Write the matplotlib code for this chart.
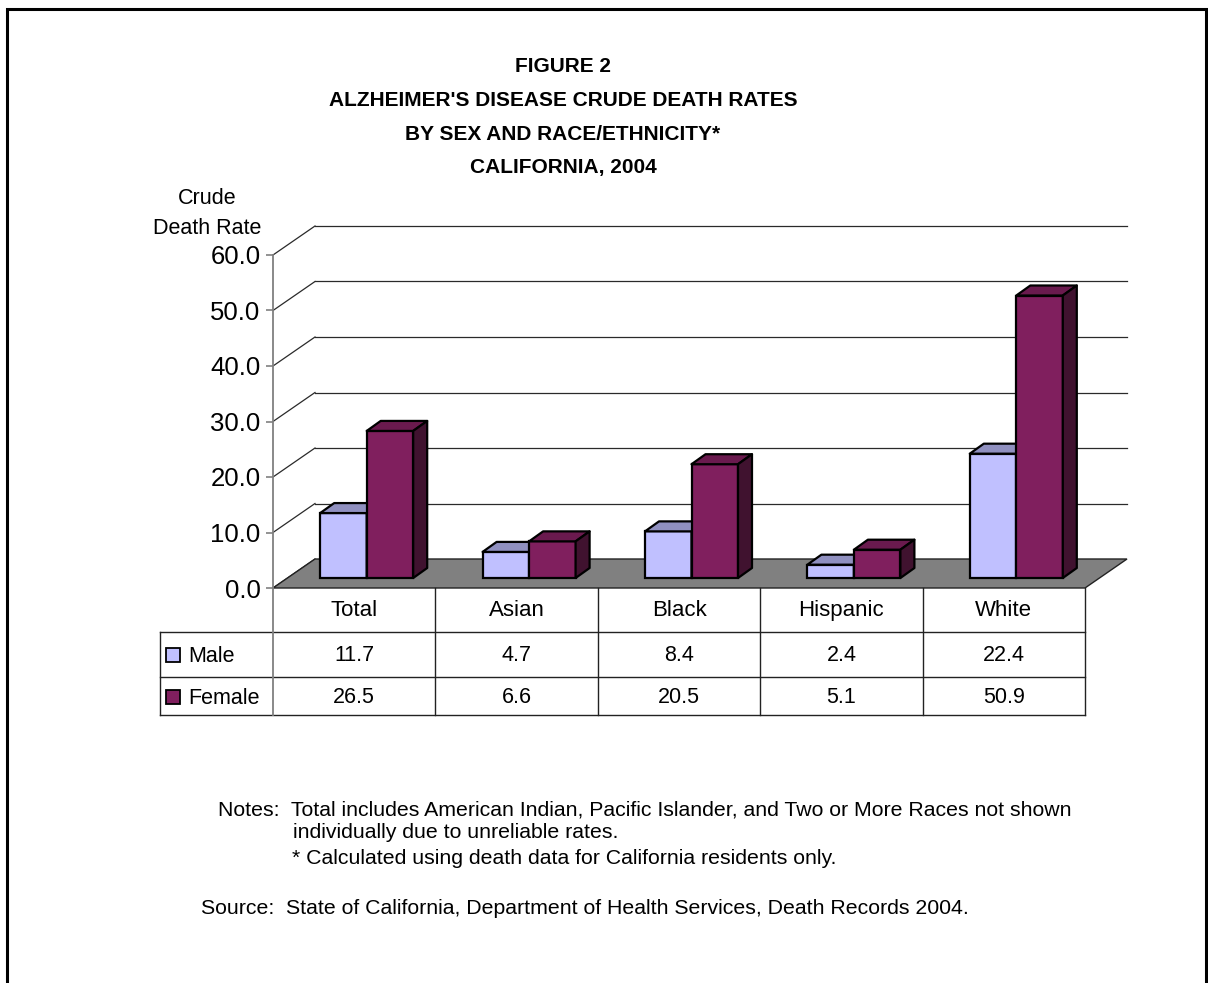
import matplotlib
matplotlib.use("Agg")
import matplotlib.pyplot as plt
from matplotlib.patches import Polygon, Rectangle
from matplotlib.lines import Line2D
import matplotlib.transforms as mtransforms

# ---------------- data ----------------
categories = ["Total", "Asian", "Black", "Hispanic", "White"]
male = [11.7, 4.7, 8.4, 2.4, 22.4]
female = [26.5, 6.6, 20.5, 5.1, 50.9]
series_names = ["Male", "Female"]
yticks = [0, 10, 20, 30, 40, 50, 60]
title_lines = ["FIGURE 2",
               "ALZHEIMER'S DISEASE CRUDE DEATH RATES",
               "BY SEX AND RACE/ETHNICITY*",
               "CALIFORNIA, 2004"]
ylabel_lines = ["Crude", "Death Rate"]
notes_lines = ["Notes:  Total includes American Indian, Pacific Islander, and Two or More Races not shown",
               "individually due to unreliable rates.",
               "* Calculated using death data for California residents only."]
source_line = "Source:  State of California, Department of Health Services, Death Records 2004."

# ---------------- styles ----------------
plt.rcParams['font.family'] = ['Liberation Sans', 'DejaVu Sans']
front_cols = ["#C0C0FF", "#801F5E"]
top_cols = ["#9090C0", "#6A1A4E"]
side_cols = ["#606090", "#40122F"]
floor_col = "#808080"
grid_col = "#2a2a2a"

W, H = 1208, 983
fig = plt.figure(figsize=(W / 100, H / 100), dpi=100)
fig.patch.set_facecolor("white")


def fx(px):
    return px / W


def fy(py):
    return 1 - py / H


# border of the figure
fig.add_artist(Rectangle((fx(7), fy(1000)), fx(1206) - fx(7), fy(9) - fy(1000),
                         transform=fig.transFigure, fill=False, lw=2.2,
                         edgecolor="black"))

ax = fig.add_axes([fx(273), fy(588), fx(1085) - fx(273), fy(255) - fy(588)])
ncat = len(categories)
ax.set_xlim(0, ncat)
ax.set_ylim(yticks[0], yticks[-1])
ax.set_facecolor("none")
for s in ["top", "right", "bottom"]:
    ax.spines[s].set_visible(False)
ax.spines["left"].set_color("#808080")
ax.spines["left"].set_linewidth(1.3)
ax.set_xticks([])
ax.set_yticks(yticks)
ax.set_yticklabels([f"{v:.1f}" for v in yticks], fontsize=18.5)
ax.tick_params(axis="y", length=5, width=1.2, color="#808080", pad=4)

# unit conversions (pixels -> data units)
ux = ax.get_position().width * W / ncat
uy = ax.get_position().height * H / (yticks[-1] - yticks[0])


def dxu(px):
    return px / ux


def dyu(px):
    return px / uy


DX, DY = dxu(42), dyu(29)

# back wall gridlines and side-wall diagonals
for v in yticks:
    if v > 0:
        ax.add_line(Line2D([DX, ncat + DX], [v + DY, v + DY], color=grid_col,
                           lw=0.9, zorder=1, clip_on=False))
    ax.add_line(Line2D([0, DX], [v, v + DY], color=grid_col, lw=0.9,
                       zorder=1, clip_on=False))

# floor
ax.add_patch(Polygon([(0, 0), (ncat, 0), (ncat + DX, DY), (DX, DY)],
                     closed=True, facecolor=floor_col, edgecolor="#222222",
                     lw=1.0, zorder=2, clip_on=False))

# bars
bw = dxu(46.5)
gshift = dxu(12.5)
base = dyu(10)
bdx, bdy = dxu(14), dyu(10)
centers = [i + 0.5 + gshift for i in range(ncat)]
for si, vals in enumerate([male, female]):
    xs = [c + (si - 0.5) * bw for c in centers]
    bars = ax.bar(xs, vals, width=bw, bottom=base, color=front_cols[si],
                  edgecolor="black", lw=1.6, zorder=3 + si * 3, clip_on=False)
    for rect in bars:
        xl = rect.get_x()
        xr = xl + rect.get_width()
        y0 = rect.get_y()
        y1 = y0 + rect.get_height()
        ax.add_patch(Polygon([(xl, y1), (xr, y1), (xr + bdx, y1 + bdy), (xl + bdx, y1 + bdy)],
                             closed=True, facecolor=top_cols[si], edgecolor="black",
                             lw=1.6, zorder=4 + si * 3, clip_on=False, joinstyle="round"))
        ax.add_patch(Polygon([(xr, y0), (xr + bdx, y0 + bdy), (xr + bdx, y1 + bdy), (xr, y1)],
                             closed=True, facecolor=side_cols[si], edgecolor="black",
                             lw=1.6, zorder=4 + si * 3, clip_on=False, joinstyle="round"))

# y label
for text, py in zip(ylabel_lines, [198, 228]):
    fig.text(fx(207), fy(py), text, ha="center", va="center", fontsize=15.5)

# title
for text, py in zip(title_lines, [66, 101, 135, 168]):
    fig.text(fx(563), fy(py), text, ha="center", va="center", fontsize=15,
             fontweight="bold")

# ---------------- data table ----------------
tr = mtransforms.blended_transform_factory(ax.transData, fig.transFigure)
leg_left = -dxu(273 - 160)
row_y = [588, 632, 677, 715]
tcol = "#222222"
for py in row_y[1:]:
    ax.add_line(Line2D([leg_left, ncat], [fy(py), fy(py)], transform=tr,
                       color=tcol, lw=1.0, clip_on=False, zorder=2))
for i in range(1, ncat + 1):
    ax.add_line(Line2D([i, i], [fy(588), fy(715)], transform=tr, color=tcol,
                       lw=1.0, clip_on=False, zorder=2))
ax.add_line(Line2D([0, 0], [fy(588), fy(715)], transform=tr, color="#808080",
                   lw=1.3, clip_on=False, zorder=2))
ax.add_line(Line2D([leg_left, leg_left], [fy(632), fy(715)], transform=tr,
                   color=tcol, lw=1.0, clip_on=False, zorder=2))

for i, cat in enumerate(categories):
    ax.text(i + 0.5, fy(616), cat, transform=tr, ha="center", va="baseline",
            fontsize=16)
for si, vals in enumerate([male, female]):
    py = [661, 703][si]
    for i, v in enumerate(vals):
        ax.text(i + 0.5, fy(py), f"{v:.1f}", transform=tr, ha="center",
                va="baseline", fontsize=15.5)
    # legend key
    fig.add_artist(Rectangle((fx(166), fy(py + 1)), fx(14), 14 / H,
                             transform=fig.transFigure, facecolor=front_cols[si],
                             edgecolor="black", lw=1.3))
    fig.text(fx(188), fy(py + 1), series_names[si], ha="left", va="baseline",
             fontsize=15.5)

# ---------------- notes ----------------
fs_notes = 15.3
fig.text(fx(218), fy(810), notes_lines[0], ha="left", va="center", fontsize=fs_notes)
fig.text(fx(293), fy(833), notes_lines[1], ha="left", va="center", fontsize=fs_notes)
fig.text(fx(292), fy(858), notes_lines[2], ha="left", va="center", fontsize=fs_notes)
fig.text(fx(201), fy(908), source_line, ha="left", va="center", fontsize=fs_notes)

fig.savefig("out.png", dpi=100)
